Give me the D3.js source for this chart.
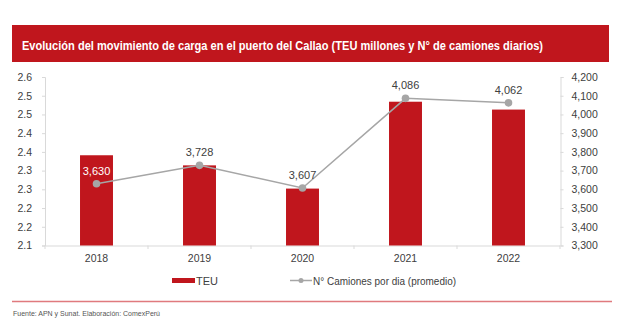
<!DOCTYPE html>
<html><head><meta charset="utf-8">
<script src="https://cdn.jsdelivr.net/npm/d3@7"></script>
<style>body{margin:0;background:#fff}svg{display:block}text{font-family:"Liberation Sans",Arial,sans-serif}</style>
</head><body>
<script>
const years = ["2018","2019","2020","2021","2022"];
const teu = [2.341, 2.314, 2.252, 2.484, 2.463];
const camiones = [3630, 3728, 3607, 4086, 4062];
const leftTicks = [2.10,2.15,2.20,2.25,2.30,2.35,2.40,2.45,2.50,2.55];
const leftTickLabels = ["2.1","2.2","2.2","2.3","2.3","2.4","2.4","2.5","2.5","2.6"];
const rightTicks = [3300,3400,3500,3600,3700,3800,3900,4000,4100,4200];
const title = "Evolución del movimiento de carga en el puerto del Callao (TEU millones y N° de camiones diarios)";
const source = "Fuente: APN y Sunat. Elaboración: ComexPerú";
const legendLabels = ["TEU", "N° Camiones por dia (promedio)"];

const W=620,H=323;
const svg=d3.select("body").append("svg").attr("width",W).attr("height",H);
const red="#c0161d", gray="#a6a6a6", axisCol="#d9d9d9", txt="#404040";

// title bar
svg.append("rect").attr("x",12).attr("y",25).attr("width",597).attr("height",37).attr("fill",red);
svg.append("text").attr("x",22).attr("y",49.5).attr("fill","#fff").attr("font-weight","bold")
  .attr("font-size",12).attr("textLength",521).attr("lengthAdjust","spacingAndGlyphs").text(title);

const x=d3.scaleBand().domain(years).range([45,560]).paddingInner(0.68).paddingOuter(0.34);
const yL=d3.scaleLinear().domain([2.1,2.55]).range([245.5,77]);
const yR=d3.scaleLinear().domain([3300,4200]).range([245.5,77]);

// axes
const gL=svg.append("g").attr("transform","translate(45,0)")
  .call(d3.axisLeft(yL).tickValues(leftTicks).tickSize(3).tickPadding(10).tickFormat((d,i)=>leftTickLabels[i]));
const gR=svg.append("g").attr("transform","translate(560.5,0)")
  .call(d3.axisRight(yR).tickValues(rightTicks).tickSize(3).tickPadding(8).tickFormat(d3.format(",")));
[gL,gR].forEach(g=>{
  g.select(".domain").attr("stroke",axisCol);
  g.selectAll(".tick line").attr("stroke",axisCol);
  g.selectAll("text").attr("font-size",10.5).attr("fill",txt);
});
const gX=svg.append("g").attr("transform","translate(0,245.5)")
  .call(d3.axisBottom(x).tickSize(0).tickPadding(9));
gX.select(".domain").attr("stroke",axisCol);
gX.selectAll("text").attr("font-size",10.5).attr("fill",txt);
// boundary ticks on x axis
const bounds=years.map(y=>x(y)-x.step()*x.paddingInner()/2).concat([560]);
svg.append("g").selectAll("line").data(bounds).join("line")
  .attr("x1",d=>d).attr("x2",d=>d).attr("y1",245.5).attr("y2",249).attr("stroke",axisCol);

// bars
svg.append("g").selectAll("rect").data(teu).join("rect")
  .attr("x",(d,i)=>x(years[i])).attr("width",x.bandwidth())
  .attr("y",d=>yL(d)).attr("height",d=>yL(2.1)-yL(d)).attr("fill",red);

// line
const line=d3.line().x((d,i)=>x(years[i])+x.bandwidth()/2).y(d=>yR(d));
svg.append("path").datum(camiones).attr("d",line).attr("fill","none").attr("stroke",gray).attr("stroke-width",1.5);
svg.append("g").selectAll("circle").data(camiones).join("circle")
  .attr("cx",(d,i)=>x(years[i])+x.bandwidth()/2).attr("cy",d=>yR(d)).attr("r",3.8).attr("fill",gray);
svg.append("g").selectAll("text").data(camiones).join("text")
  .attr("x",(d,i)=>x(years[i])+x.bandwidth()/2).attr("y",d=>yR(d)-9)
  .attr("text-anchor","middle").attr("font-size",11)
  .attr("fill",(d,i)=>(yR(d)>yL(teu[i])+8)?"#ffffff":txt)
  .text(d=>d3.format(",")(d));

// legend
svg.append("rect").attr("x",172).attr("y",278).attr("width",23).attr("height",5).attr("fill",red);
svg.append("text").attr("x",196).attr("y",284.5).attr("font-size",11).attr("fill",txt).text(legendLabels[0]);
svg.append("line").attr("x1",290).attr("x2",312).attr("y1",280.5).attr("y2",280.5).attr("stroke",gray).attr("stroke-width",1.5);
svg.append("circle").attr("cx",301).attr("cy",280.5).attr("r",2.5).attr("fill",gray);
svg.append("text").attr("x",313).attr("y",284.5).attr("font-size",11).attr("fill",txt)
  .attr("textLength",143).attr("lengthAdjust","spacingAndGlyphs").text(legendLabels[1]);

// footer
svg.append("line").attr("x1",12).attr("x2",612).attr("y1",301.5).attr("y2",301.5).attr("stroke","#e07a7e").attr("stroke-width",1.5);
svg.append("text").attr("x",13).attr("y",315.5).attr("font-size",6.5).attr("fill","#555")
  .attr("textLength",147).attr("lengthAdjust","spacingAndGlyphs").text(source);
</script>
</body></html>
